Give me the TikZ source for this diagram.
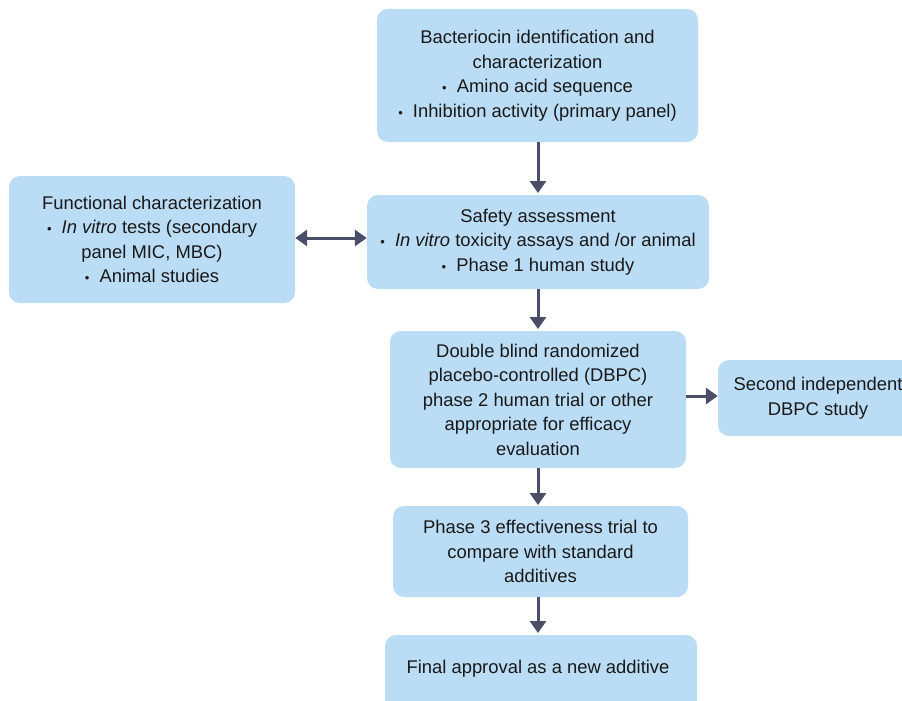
\documentclass[tikz,border=0pt]{standalone}
\usepackage{fontspec}
\setmainfont{Liberation Sans}
\usetikzlibrary{arrows.meta}
\definecolor{boxblue}{RGB}{187,220,245}
\definecolor{arrowc}{RGB}{74,78,104}
\definecolor{txt}{RGB}{25,25,25}
\newcommand{\bul}{{\fontsize{13}{13}\selectfont•}\hspace{0.55em}}
\begin{document}
\begin{tikzpicture}[x=1pt,y=-1pt,
  box/.style={fill=boxblue, rounded corners=11pt, inner sep=0pt, align=center,
    text=txt, font=\fontsize{18.4}{24.5}\selectfont},
  conn/.style={draw=arrowc, line width=3pt, -{Triangle[length=12pt,width=16pt]}},
  dconn/.style={draw=arrowc, line width=3pt, {Triangle[length=12pt,width=16pt]}-{Triangle[length=12pt,width=16pt]}}
]
\useasboundingbox (0,0) rectangle (902,701);
\clip (0,0) rectangle (902,701);
\node[box, minimum width=321pt, minimum height=133pt] (top) at (537.5,75.5)
  {Bacteriocin identification and\\characterization\\\bul Amino acid sequence\\\bul Inhibition activity (primary panel)};
\node[box, minimum width=342pt, minimum height=94pt] (safety) at (538,242)
  {Safety assessment\\\bul\textit{In vitro} toxicity assays and /or animal\\\bul Phase 1 human study};
\node[box, minimum width=286pt, minimum height=127pt] (func) at (152,239.5)
  {Functional characterization\\\bul\textit{In vitro} tests (secondary\\panel MIC, MBC)\\\bul Animal studies};
\node[box, minimum width=296pt, minimum height=137pt] (dbpc) at (538,399.5)
  {Double blind randomized\\placebo-controlled (DBPC)\\phase 2 human trial or other\\appropriate for efficacy\\evaluation};
\node[box, minimum width=200pt, minimum height=76pt] (second) at (818,398)
  {Second independent\\DBPC study};
\node[box, minimum width=295pt, minimum height=91pt] (phase3) at (540.5,551.5)
  {Phase 3 effectiveness trial to\\compare with standard\\additives};
\node[box, minimum width=312pt, minimum height=90pt] (final) at (541,680)
  {};
\node[text=txt, font=\fontsize{18.4}{24.5}\selectfont] (finaltxt) at (538,669) {Final approval as a new additive};
\draw[conn] (top.south -| 538,0) -- (538,193);
\draw[conn] (safety.south -| 538,0) -- (538,329);
\draw[conn] (dbpc.south -| 538,0) -- (538,505);
\draw[conn] (phase3.south -| 538,0) -- (538,633);
\draw[dconn] (func.east |- 0,238) -- (safety.west |- 0,238);
\draw[conn] (dbpc.east |- 0,396) -- (second.west |- 0,396);
\end{tikzpicture}
\end{document}
